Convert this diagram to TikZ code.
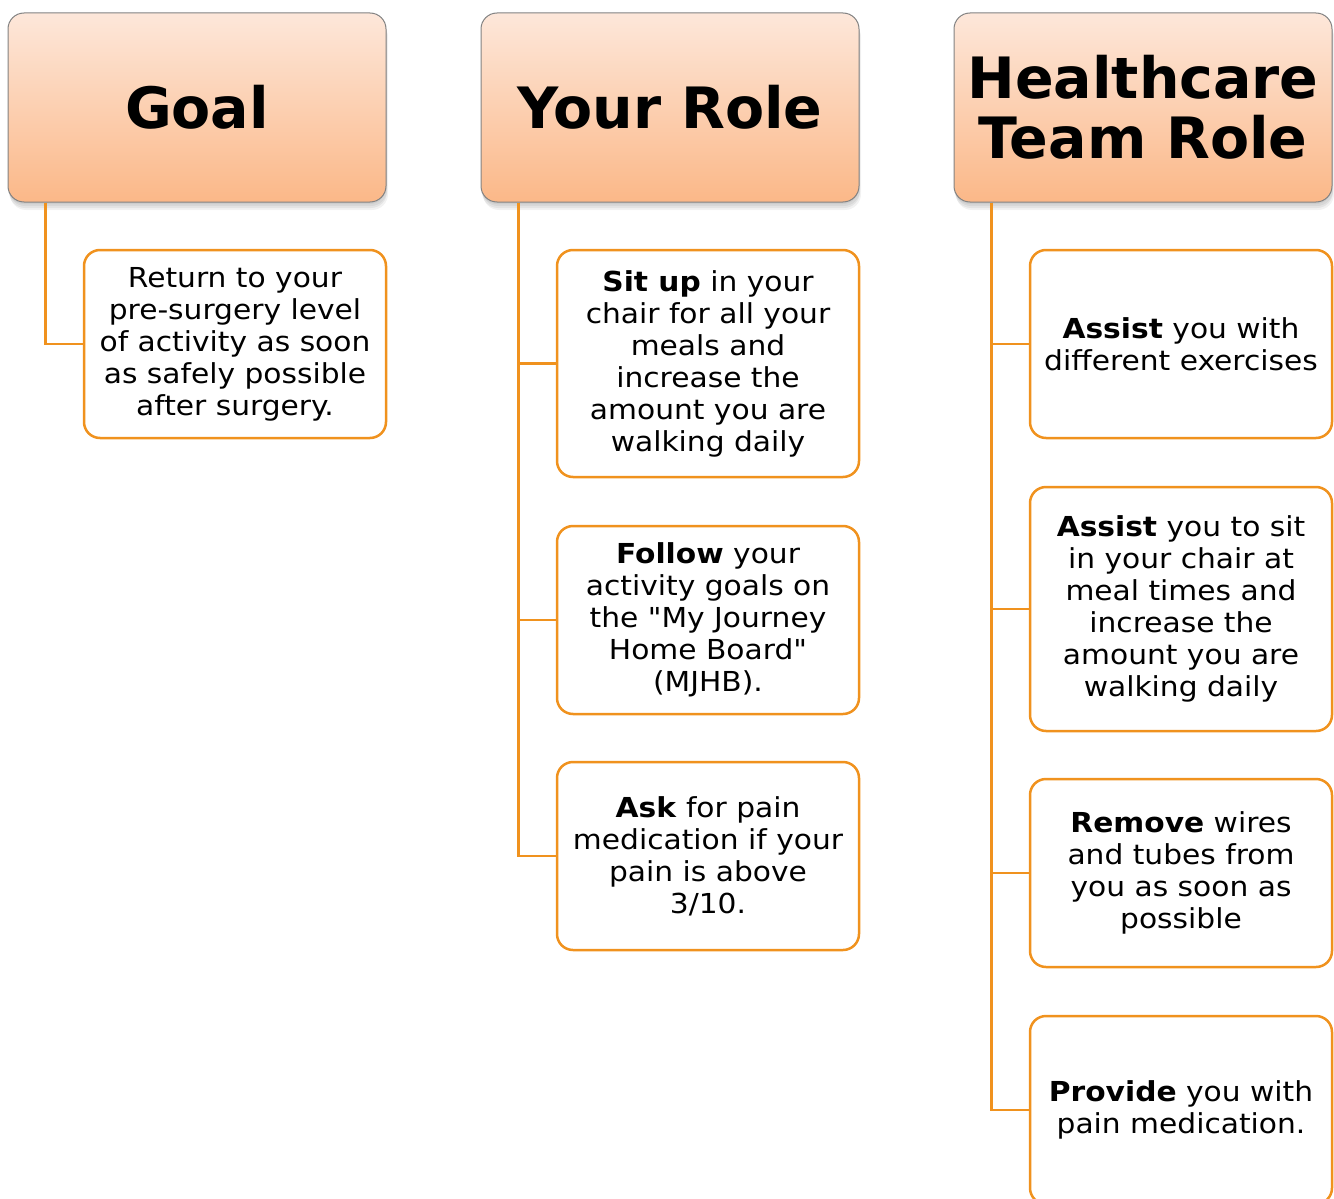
\documentclass[tikz,border=0pt]{standalone}
\usepackage{fontspec}
\setmainfont{DejaVu Sans}
\newfontfamily\bodyfont[FakeStretch=1.08]{DejaVu Sans}
\usetikzlibrary{shadows}
\definecolor{orng}{RGB}{240,146,30}
\definecolor{hdtop}{RGB}{253,231,218}
\definecolor{hdbot}{RGB}{251,184,136}
\definecolor{hdline}{RGB}{130,130,130}
\begin{document}
\begin{tikzpicture}[x=1pt,y=-1pt,
  head/.style={rounded corners=16, draw=hdline, line width=1, top color=hdtop, bottom color=hdbot,
    minimum width=378, minimum height=189, inner sep=0, align=center,
    font=\bfseries\fontsize{57}{60}\selectfont,
    drop shadow={opacity=0.12, shadow xshift=0pt, shadow yshift=-2pt},
    drop shadow={opacity=0.12, shadow xshift=1pt, shadow yshift=-4pt},
    drop shadow={opacity=0.12, shadow xshift=1pt, shadow yshift=-6pt},
    drop shadow={opacity=0.10, shadow xshift=2pt, shadow yshift=-8pt}},
  kid/.style={rounded corners=16, draw=orng, line width=2.5, fill=white,
    minimum width=302, inner sep=0, align=center,
    font=\bodyfont\fontsize{27.5}{32}\selectfont},
  conn/.style={draw=orng, line width=2.5}]
\useasboundingbox (0,0) rectangle (1334,1199);

% headers
\node[head] (g) at (197,107.5) {Goal};
\node[head] (r) at (670,107.5) {Your Role};
\node[head] (h) at (1143,107.5) {Healthcare\\Team Role};

% goal child
\node[kid, minimum height=188] (g1) at (235,344) {Return to your\\pre-surgery level\\of activity as soon\\as safely possible\\after surgery.};

% your role children
\node[kid, minimum height=227] (r1) at (708,363.5) {\textbf{Sit up} in your\\chair for all your\\meals and\\increase the\\amount you are\\walking daily};
\node[kid, minimum height=188] (r2) at (708,620) {\textbf{Follow} your\\activity goals on\\the \symbol{34}My Journey\\Home Board\symbol{34}\\(MJHB).};
\node[kid, minimum height=188] (r3) at (708,856) {\textbf{Ask} for pain\\medication if your\\pain is above\\3/10.};

% healthcare children
\node[kid, minimum height=188] (h1) at (1181,344) {\textbf{Assist} you with\\different exercises};
\node[kid, minimum height=244] (h2) at (1181,609) {\textbf{Assist} you to sit\\in your chair at\\meal times and\\increase the\\amount you are\\walking daily};
\node[kid, minimum height=188] (h3) at (1181,873) {\textbf{Remove} wires\\and tubes from\\you as soon as\\possible};
\node[kid, minimum height=188] (h4) at (1181,1110) {\textbf{Provide} you with\\pain medication.};

% connectors
\draw[conn] (g.south west) ++(38,0) |- (g1.west);
\draw[conn] (r.south west) ++(38,0) |- (r3.west);
\draw[conn] (r.south west) ++(38,0) |- (r1.west);
\draw[conn] (r.south west) ++(38,0) |- (r2.west);
\draw[conn] (h.south west) ++(38,0) |- (h4.west);
\draw[conn] (h.south west) ++(38,0) |- (h1.west);
\draw[conn] (h.south west) ++(38,0) |- (h2.west);
\draw[conn] (h.south west) ++(38,0) |- (h3.west);
\end{tikzpicture}
\end{document}
